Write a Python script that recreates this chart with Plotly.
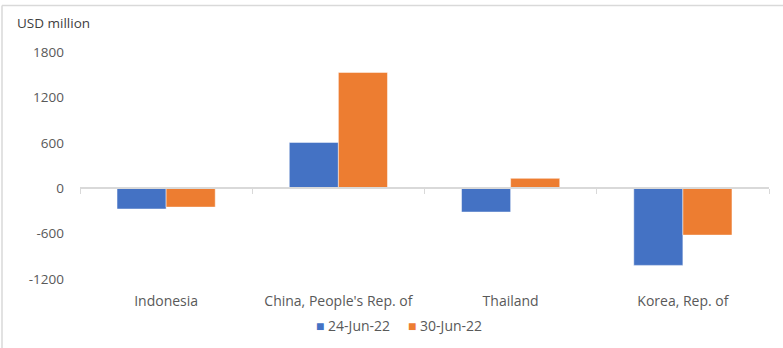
import plotly.graph_objects as go

categories = ["Indonesia", "China, People's Rep. of", "Thailand", "Korea, Rep. of"]
series_names = ["24-Jun-22", "30-Jun-22"]
values_24jun = [-275, 605, -315, -1020]
values_30jun = [-250, 1530, 130, -620]
y_tickvals = [-1200, -600, 0, 600, 1200, 1800]
y_ticklabels = ["-1200", "-600", "0", "600", "1200", "1800"]
y_title = "USD million"

colors = ["#4472C4", "#ED7D31"]
W, H = 783, 348
ml, mr, mt, mb = 80, 14, 52, 69
font = "Open Sans, Lato, sans-serif"
gray = "#595959"

fig = go.Figure()
for name, vals, c in zip(series_names, [values_24jun, values_30jun], colors):
    fig.add_trace(go.Bar(x=categories, y=vals, name=name, marker_color=c, showlegend=False,
                         marker_line=dict(color="rgba(255,255,255,0.6)", width=0.8)))
# invisible trace carrying the zero-crossing category axis
fig.add_trace(go.Scatter(x=categories, y=[0]*len(categories), xaxis="x2", mode="markers",
                         marker=dict(opacity=0), showlegend=False, hoverinfo="skip"))

ymin, ymax = -1200, 1800
pw, ph = W - ml - mr, H - mt - mb
fig.update_layout(
    width=W, height=H, margin=dict(l=ml, r=mr, t=mt, b=mb, autoexpand=False),
    paper_bgcolor="white", plot_bgcolor="white",
    font=dict(family=font, size=14, color=gray),
    barmode="group", bargap=0.43, bargroupgap=0,
    xaxis=dict(type="category", showline=False, ticks="", showgrid=False, automargin=False,
               tickfont=dict(size=14, color=gray), ticklabelstandoff=12),
    xaxis2=dict(type="category", overlaying="x", anchor="free", automargin=False,
                position=(0 - ymin) / (ymax - ymin), matches="x",
                showline=True, linecolor="#d9d9d9", linewidth=1.5,
                ticks="outside", tickson="boundaries", ticklen=5, tickcolor="#d9d9d9",
                showticklabels=False, showgrid=False, side="bottom"),
    yaxis=dict(range=[ymin, ymax], tickvals=y_tickvals, ticktext=y_ticklabels,
               showgrid=False, zeroline=False, automargin=False,
               showline=False, ticks="", tickfont=dict(size=13.5, color=gray),
               ticklabelstandoff=15),
    showlegend=False,
)
fig.add_annotation(text=y_title, xref="paper", yref="paper",
                   x=-(ml - 15) / pw, y=1 + (mt - 23) / ph,
                   xanchor="left", yanchor="middle", showarrow=False,
                   font=dict(size=13.5, color="#404040"))
# legend drawn as text entries
legend_left = [314, 406]
for name, c, lx in zip(series_names, colors, legend_left):
    fig.add_annotation(text=f"<span style='color:{c}'>■</span> {name}",
                       xref="paper", yref="paper", x=(lx - ml) / pw, y=-(325 - mt - ph) / ph,
                       xanchor="left", yanchor="middle", showarrow=False,
                       font=dict(size=14, color=gray))
# chart frame (top and left edges visible in reference)
fig.add_shape(type="line", xref="paper", yref="paper",
              x0=-(ml - 2) / pw, x1=(W - ml) / pw, y0=1 + (mt - 5.5) / ph, y1=1 + (mt - 5.5) / ph,
              line=dict(color="#d9d9d9", width=1.5))
fig.add_shape(type="line", xref="paper", yref="paper",
              x0=-(ml - 2) / pw, x1=-(ml - 2) / pw, y0=-(mb) / ph, y1=1 + (mt - 5.5) / ph,
              line=dict(color="#d9d9d9", width=1.5))

fig.write_html("out.html")
